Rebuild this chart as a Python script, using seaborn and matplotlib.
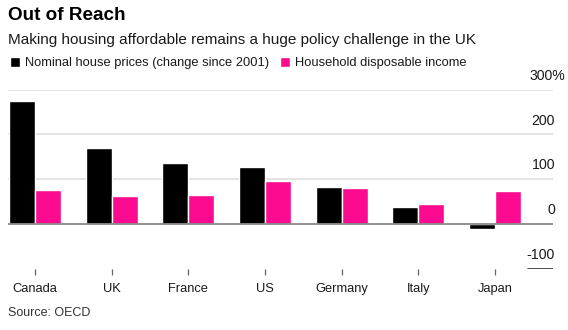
import matplotlib
matplotlib.use("Agg")
import matplotlib.pyplot as plt
import matplotlib.transforms as mtransforms
import pandas as pd
import seaborn as sns

countries = ["Canada", "UK", "France", "US", "Germany", "Italy", "Japan"]
house_prices = [274, 169, 136, 127, 83, 37, -11]
disposable_income = [75, 63, 65, 95, 81, 45, 73]
series_names = ["Nominal house prices (change since 2001)", "Household disposable income"]
y_ticks = [-100, 0, 100, 200, 300]

df = pd.DataFrame({
    "country": countries * 2,
    "series": [series_names[0]] * len(countries) + [series_names[1]] * len(countries),
    "value": house_prices + disposable_income,
})

sns.set_theme(style="white")
plt.rcParams["font.family"] = ["Liberation Sans", "DejaVu Sans"]

W, H = 568, 330
fig = plt.figure(figsize=(W / 100, H / 100), dpi=100)
left_px, right_px, top_px, bottom_px = 8, 553, 89.7, 268.7
ax = fig.add_axes([left_px / W, 1 - bottom_px / H,
                   (right_px - left_px) / W, (bottom_px - top_px) / H])

BLACK = "#000000"
PINK = "#fc0a8f"
TEXT = "#1a1a1a"

# grid lines and zero line
for v in y_ticks[2:]:
    ax.axhline(v, color="#e2e2e2", lw=1.3, zorder=0)
ax.axhline(0, color="#8a8a8a", lw=1.3, zorder=3)
ax.axhline(-100, xmin=0.954, xmax=1.0, color="#333333", lw=1.2, zorder=3)

sns.barplot(data=df, x="country", y="value", hue="series",
            palette=[BLACK, PINK], saturation=1, width=0.68,
            dodge=True, errorbar=None, ax=ax, zorder=2)

ax.set_ylim(-100, 300)
ax.set_xlim(-0.352, 6.756)
ax.set_xlabel("")
ax.set_ylabel("")
ax.set_yticks([])
for s in ax.spines.values():
    s.set_visible(False)
ax.tick_params(axis="x", which="both", bottom=True, length=4, width=0.9,
               color="#666666", pad=6, labelsize=9.3, labelcolor=TEXT)

# value labels sitting above each grid line, right aligned
trans = mtransforms.blended_transform_factory(ax.transAxes, ax.transData)
for v in y_ticks:
    label = f"{v}%" if v == y_ticks[-1] else f"{v}"
    dx = 12 if v == y_ticks[-1] else 2
    off = mtransforms.ScaledTranslation(dx / 100, 5 / 72, fig.dpi_scale_trans)
    ax.text(1.0, v, label, transform=trans + off, ha="right", va="bottom",
            fontsize=10.2, color=TEXT)

# legend along the top
sns.move_legend(ax, "center left", bbox_to_anchor=(10 / W, 1 - 63 / H),
                bbox_transform=fig.transFigure, ncol=2, frameon=False,
                title=None, fontsize=9.3, handlelength=0.8, handleheight=0.8,
                handletextpad=0.35, columnspacing=0.85, borderaxespad=0,
                borderpad=0)
for t in ax.get_legend().get_texts():
    t.set_color(TEXT)

fig.text(8 / W, 1 - 16 / H, "Out of Reach", fontsize=13.6, fontweight="bold",
         color="#000000", va="center", ha="left")
fig.text(8 / W, 1 - 40 / H, "Making housing affordable remains a huge policy challenge in the UK",
         fontsize=11, color=TEXT, va="center", ha="left")
fig.text(8 / W, 1 - 313 / H, "Source: OECD", fontsize=9, color="#333333",
         va="center", ha="left")

fig.savefig("out.png", dpi=100)
